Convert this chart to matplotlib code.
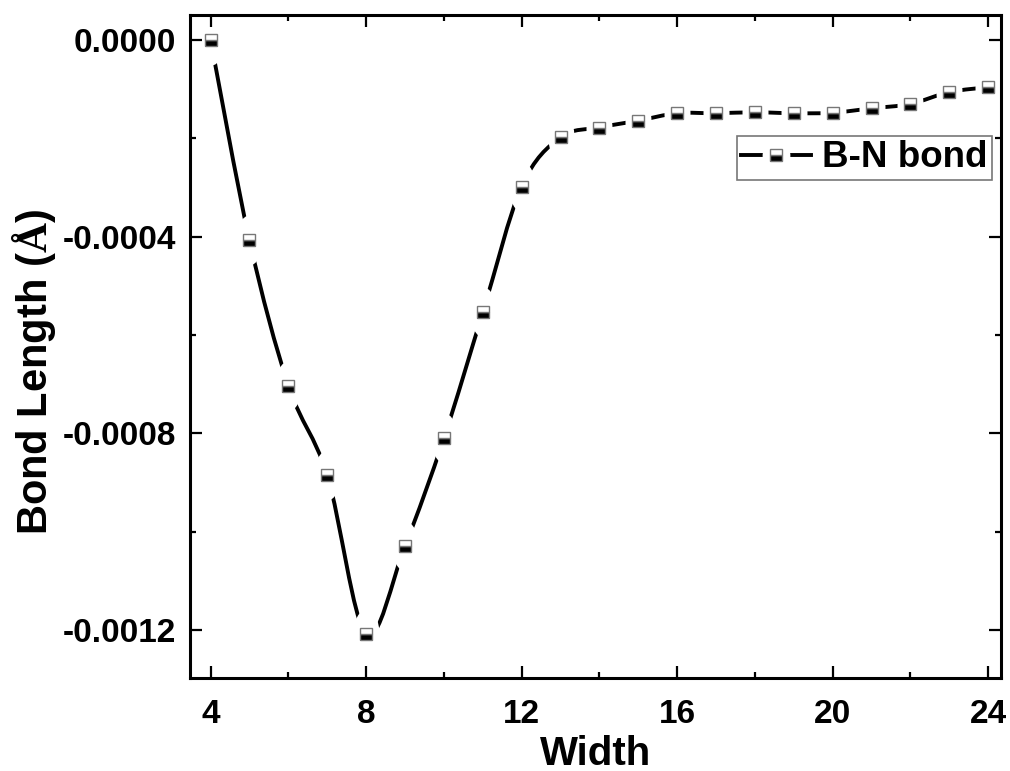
import numpy as np
import matplotlib
matplotlib.use('Agg')
import matplotlib.pyplot as plt
from matplotlib.path import Path
from matplotlib.patches import PathPatch
from matplotlib.lines import Line2D
from matplotlib.legend_handler import HandlerTuple
from matplotlib.transforms import Affine2D
import matplotlib.ticker as mticker

plt.rcParams['font.family'] = ['Liberation Sans', 'DejaVu Sans']
plt.rcParams['font.weight'] = 'bold'
plt.rcParams['mathtext.fontset'] = 'custom'
plt.rcParams['mathtext.rm'] = 'Liberation Serif'

# bond length change vs ribbon width
width = [4, 5, 6, 7, 8, 9, 10, 11, 12, 13, 14, 15, 16, 17, 18, 19, 20, 21, 22, 23, 24]
bond_len = [0.0, -4.075e-4, -7.03e-4, -8.85e-4, -12.08e-4, -10.29e-4, -8.10e-4,
            -5.54e-4, -2.98e-4, -1.98e-4, -1.78e-4, -1.64e-4, -1.49e-4, -1.49e-4,
            -1.47e-4, -1.49e-4, -1.48e-4, -1.39e-4, -1.30e-4, -1.06e-4, -0.96e-4]
series_label = 'B-N bond'

LW = 2.8
MS = 8.5
GAP = 36.0  # height (pt) of the white oval that cuts the line at each symbol
gap_marker = Path.unit_circle().transformed(Affine2D().scale(0.52, 1.0))


def smooth_path(x, y):
    # Catmull-Rom through the points, written as cubic Bezier pieces
    p = np.column_stack((x, y)).astype(float)
    n = len(p)
    verts = [p[0]]
    codes = [Path.MOVETO]
    for i in range(n - 1):
        p0 = p[max(i - 1, 0)]
        p1 = p[i]
        p2 = p[i + 1]
        p3 = p[min(i + 2, n - 1)]
        verts += [p1 + (p2 - p0) / 6.0, p2 - (p3 - p1) / 6.0, p2]
        codes += [Path.CURVE4] * 3
    return Path(verts, codes)


fig = plt.figure(figsize=(10.10, 7.71), dpi=100)
ax = fig.add_axes([190/1010, 1 - 678/771, 811/1010, 663/771])
ax.set_axisbelow(False)

ax.add_patch(PathPatch(smooth_path(width, bond_len), fill=False, edgecolor='k',
                       lw=LW, capstyle='round', zorder=2))
ax.plot(width, bond_len, ls='none', marker=gap_marker, ms=GAP, mfc='w', mec='none', zorder=2.1)
ax.plot(width, bond_len, ls='none', marker='s', ms=MS, fillstyle='bottom',
        mfc='k', mfcalt='w', mec='#777777', mew=1.0, zorder=2.2)

ax.set_xlim(3.47, 24.33)
ax.set_ylim(-0.0012975, 0.0000508)

ax.xaxis.set_major_locator(mticker.MultipleLocator(4))
ax.xaxis.set_minor_locator(mticker.MultipleLocator(2))
ax.yaxis.set_major_locator(mticker.MultipleLocator(0.0004))
ax.yaxis.set_minor_locator(mticker.MultipleLocator(0.0002))
ax.yaxis.set_major_formatter(mticker.FuncFormatter(lambda v, pos: '%.4f' % (0.0 if abs(v) < 1e-9 else v)))

for s in ax.spines.values():
    s.set_linewidth(2.2)
ax.tick_params(which='both', direction='in', top=True, right=True, width=1.6)
ax.tick_params(which='major', length=8.6)
ax.tick_params(which='minor', length=4.3)
ax.tick_params(axis='x', which='major', labelsize=24, pad=15)
ax.tick_params(axis='y', which='major', labelsize=24, pad=10)

ax.set_xlabel('Width', fontsize=29, fontweight='bold')
ax.xaxis.set_label_coords(0.5, (678 - 735) / 663)
ax.set_ylabel(r'Bond Length ($\mathrm{\AA}$)', fontsize=30, fontweight='bold')
ax.yaxis.set_label_coords((58 - 190) / 811, (678 - 372) / 663)

# legend handle: line, gap and half-filled symbol stacked
h_line = Line2D([], [], color='k', lw=LW)
h_gap = Line2D([], [], ls='none', marker='o', ms=20, mfc='w', mec='none')
h_mark = Line2D([], [], ls='none', marker='s', ms=MS, fillstyle='bottom',
                mfc='k', mfcalt='w', mec='#777777', mew=1.0)
leg = ax.legend([(h_line, h_gap, h_mark)], [series_label],
                handler_map={tuple: HandlerTuple(ndivide=1)},
                loc='upper right', bbox_to_anchor=(0.989, 0.8175), borderaxespad=0,
                fontsize=26.5, handlelength=1.9, handletextpad=0.3, borderpad=0.12,
                fancybox=False, framealpha=1, edgecolor='#777777')
leg.get_frame().set_linewidth(1.2)

fig.savefig('out.png', dpi=100)
